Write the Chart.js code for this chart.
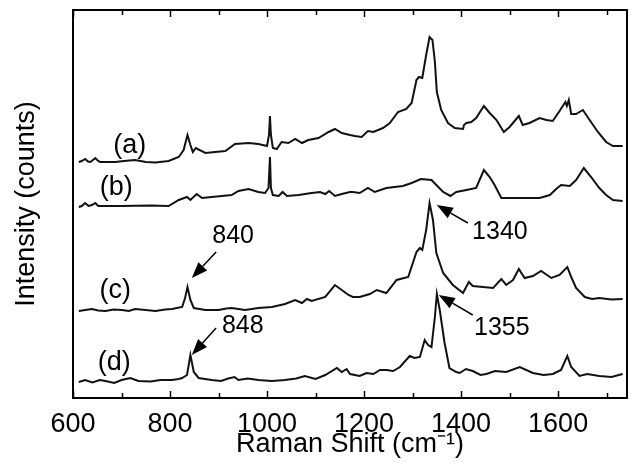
<!DOCTYPE html>
<html>
<head>
<meta charset="utf-8">
<script src="https://cdn.jsdelivr.net/npm/chart.js@4.4.1/dist/chart.umd.min.js"></script>
<style>
  html, body { margin: 0; padding: 0; background: #fff; }
  #wrap { width: 638px; height: 464px; }
</style>
</head>
<body>
<div id="wrap"><canvas id="spectra"></canvas></div>
<script>
// Raman spectra, offset traces (a)-(d)
const shiftA = [612,618,625,631,636,646,652,656,687,705,728,750,770,797,818,828,836,842,847,853,873,893,914,934,962,982,1000,1004,1006,1008,1012,1020,1030,1044,1058,1072,1085,1106,1127,1140,1154,1171,1181,1195,1208,1219,1239,1253,1270,1287,1298,1308,1313,1320,1328,1335,1341,1346,1350,1359,1373,1387,1404,1406,1411,1421,1431,1447,1459,1473,1488,1500,1519,1527,1541,1562,1576,1589,1603,1615,1618,1622,1627,1637,1651,1665,1682,1699,1713,1733];
const countsA = [236,237,239,236.5,236,240,237,236,236,237,238,236,235.5,237,241,248,263,253,246,250,245,246,247,254,255,254,252,263,282,263,250,249,256,255,259,255,258,260,266,269,265,263,262,261,267,266,270,275,286,289,295,318,321,320,343,361,358,336,306,288,275,270,269,273,275,276,280,292,285,278,266,271,282,273,275,280,278,277,287,296,292,298,284,284,288,278,266,256,252,252];

const shiftB = [612,618,625,632,639,646,652,700,760,797,818,835,842,855,866,886,907,927,941,962,982,996,1003,1006,1008,1012,1024,1032,1041,1065,1092,1109,1120,1128,1140,1154,1171,1177,1191,1208,1222,1246,1280,1298,1317,1339,1349,1363,1378,1390,1411,1431,1447,1459,1469,1483,1507,1534,1562,1583,1596,1606,1624,1637,1653,1668,1685,1699,1713,1733];
const countsB = [191,192,195,192,193,195,192,192,192.5,192,198,201,198,204,200,201,202,203,207,209,206,205,210,241,210,203,202,206,202,203,205,206,204,207,202,204,206,206,205,210,206,210,212,215,219,218,213,206,202,206,208,210,228,221,213,200,200,200,200,203,209,213,212,218,230,221,210,203,198,197];

const shiftC = [612,625,639,652,667,684,701,715,728,750,770,790,804,825,831,836,842,849,873,900,916,927,955,982,1010,1037,1058,1072,1082,1092,1120,1140,1154,1168,1177,1191,1212,1226,1246,1267,1291,1308,1315,1320,1328,1335,1342,1349,1363,1383,1404,1416,1424,1445,1466,1483,1493,1507,1519,1531,1548,1565,1586,1603,1619,1627,1637,1655,1670,1685,1710,1733];
const countsC = [87,88,89,87.5,87,88.5,88,87,89,88,87,88.5,89,91,100,111,98,90,88,88,89.5,90,88,90,91,94,98,95,99,97,101,113,108,103,101,101,104,108,105,118,121,146,150,148,168,195,178,145,125,113,105,116,112,111,110,119,113,118,129,120,122,127,120,123,131,121,110,101,99,100,98.5,99];

const shiftD = [612,625,640,655,667,685,700,718,735,760,780,804,818,825,835,842,849,859,872,886,905,920,933,941,960,982,1010,1037,1060,1078,1100,1120,1144,1154,1164,1171,1191,1205,1219,1233,1246,1260,1274,1294,1304,1315,1325,1332,1339,1346,1350,1356,1366,1376,1390,1397,1410,1424,1440,1452,1470,1493,1521,1548,1570,1589,1606,1619,1627,1644,1660,1685,1710,1733];
const countsD = [16,18,15.5,18,17,15,18,20,17,16.5,18,18,19,20,23,43,26,20,19,18,17,19.5,21,18,19.5,18,17,18,19.5,22,19,23,30,26,29,24,22,25,24,28,28,27,31,42,40,41,58,53,51,81,104,88,55,30,26,25,29,27,23,24,27,26,31,25,23,24,28,42,31,22,24,22,21,24];

const xMajorTicks = [600, 800, 1000, 1200, 1400, 1600];
const xMinorTicks = [700, 900, 1100, 1300, 1500, 1700];

// trace labels and peak callouts, in data units
const traceLabels = [
  { text: '(a)', x: 717, y: 252 },
  { text: '(b)', x: 689, y: 210 },
  { text: '(c)', x: 687, y: 107 },
  { text: '(d)', x: 685, y: 35 }
];
const peakNotes = [
  { text: '840',  tx: 930,  ty: 162, from: [895, 146],  to: [845, 120] },
  { text: '848',  tx: 950,  ty: 72,  from: [895, 70],   to: [845, 43] },
  { text: '1340', tx: 1480, ty: 166, from: [1414, 175], to: [1350, 193] },
  { text: '1355', tx: 1484, ty: 70,  from: [1424, 83],  to: [1354, 103] }
];

const FONT = '"Liberation Sans Narrow", "Arial Narrow", "Liberation Sans", sans-serif';

function toPoints(xs, ys) {
  return xs.map((x, i) => ({ x: x, y: ys[i] }));
}

function trace(label, xs, ys) {
  return {
    label: label,
    data: toPoints(xs, ys),
    borderColor: '#111',
    borderWidth: 2,
    pointRadius: 0,
    tension: 0,
    fill: false
  };
}

const framePlugin = {
  id: 'frame',
  afterDraw(chart) {
    const ctx = chart.ctx;
    const a = chart.chartArea;
    const xs = chart.scales.x, ys = chart.scales.y;
    ctx.save();
    ctx.strokeStyle = '#000';
    ctx.lineWidth = 2;
    ctx.strokeRect(a.left, a.top, a.right - a.left, a.bottom - a.top);

    // inward ticks top and bottom
    ctx.lineWidth = 1.5;
    const tick = (v, len) => {
      const px = Math.round(xs.getPixelForValue(v)) + 0.5;
      ctx.beginPath();
      ctx.moveTo(px, a.bottom); ctx.lineTo(px, a.bottom - len);
      ctx.moveTo(px, a.top); ctx.lineTo(px, a.top + len);
      ctx.stroke();
    };
    xMajorTicks.forEach(v => tick(v, 7));
    xMinorTicks.forEach(v => tick(v, 5));

    // trace labels
    ctx.fillStyle = '#000';
    ctx.font = '27px ' + FONT;
    ctx.textAlign = 'center';
    ctx.textBaseline = 'middle';
    traceLabels.forEach(l => {
      ctx.fillText(l.text, xs.getPixelForValue(l.x), ys.getPixelForValue(l.y));
    });

    // peak arrows
    ctx.font = '25px ' + FONT;
    peakNotes.forEach(n => {
      ctx.fillText(n.text, xs.getPixelForValue(n.tx), ys.getPixelForValue(n.ty));
      const x0 = xs.getPixelForValue(n.from[0]), y0 = ys.getPixelForValue(n.from[1]);
      const x1 = xs.getPixelForValue(n.to[0]), y1 = ys.getPixelForValue(n.to[1]);
      const ang = Math.atan2(y1 - y0, x1 - x0);
      const headLen = 16, headW = 6;
      const bx = x1 - headLen * Math.cos(ang), by = y1 - headLen * Math.sin(ang);
      ctx.lineWidth = 1.5;
      ctx.beginPath();
      ctx.moveTo(x0, y0); ctx.lineTo(bx, by);
      ctx.stroke();
      ctx.beginPath();
      ctx.moveTo(x1, y1);
      ctx.lineTo(bx + headW * Math.sin(ang), by - headW * Math.cos(ang));
      ctx.lineTo(bx - headW * Math.sin(ang), by + headW * Math.cos(ang));
      ctx.closePath();
      ctx.fill();
    });
    ctx.restore();
  }
};

new Chart(document.getElementById('spectra'), {
  type: 'line',
  data: {
    datasets: [
      trace('(a)', shiftA, countsA),
      trace('(b)', shiftB, countsB),
      trace('(c)', shiftC, countsC),
      trace('(d)', shiftD, countsD)
    ]
  },
  options: {
    responsive: true,
    maintainAspectRatio: false,
    animation: false,
    layout: { padding: { top: 10, right: 11, left: 10, bottom: 0 } },
    plugins: {
      legend: { display: false },
      tooltip: { enabled: false }
    },
    scales: {
      x: {
        type: 'linear',
        min: 600,
        max: 1742,
        afterBuildTicks: s => { s.ticks = xMajorTicks.map(v => ({ value: v })); },
        afterFit: s => { s.height = 66; },
        grid: { display: false, drawTicks: false },
        border: { display: false },
        ticks: {
          color: '#000',
          padding: 10,
          font: { family: FONT, size: 27 },
          maxRotation: 0,
          callback: v => String(v)
        },
        title: {
          display: true,
          text: 'Raman Shift (cm\u207B\u00B9)',
          color: '#000',
          font: { family: FONT, size: 27 },
          padding: { top: 0, bottom: 3 }
        }
      },
      y: {
        min: 0,
        max: 388,
        afterFit: s => { s.width = 63; },
        grid: { display: false, drawTicks: false },
        border: { display: false },
        ticks: { display: false },
        title: {
          display: true,
          text: 'Intensity (counts)',
          color: '#000',
          font: { family: FONT, size: 27 },
          padding: { top: 0, bottom: 0 }
        }
      }
    }
  },
  plugins: [framePlugin]
});
</script>
</body>
</html>
